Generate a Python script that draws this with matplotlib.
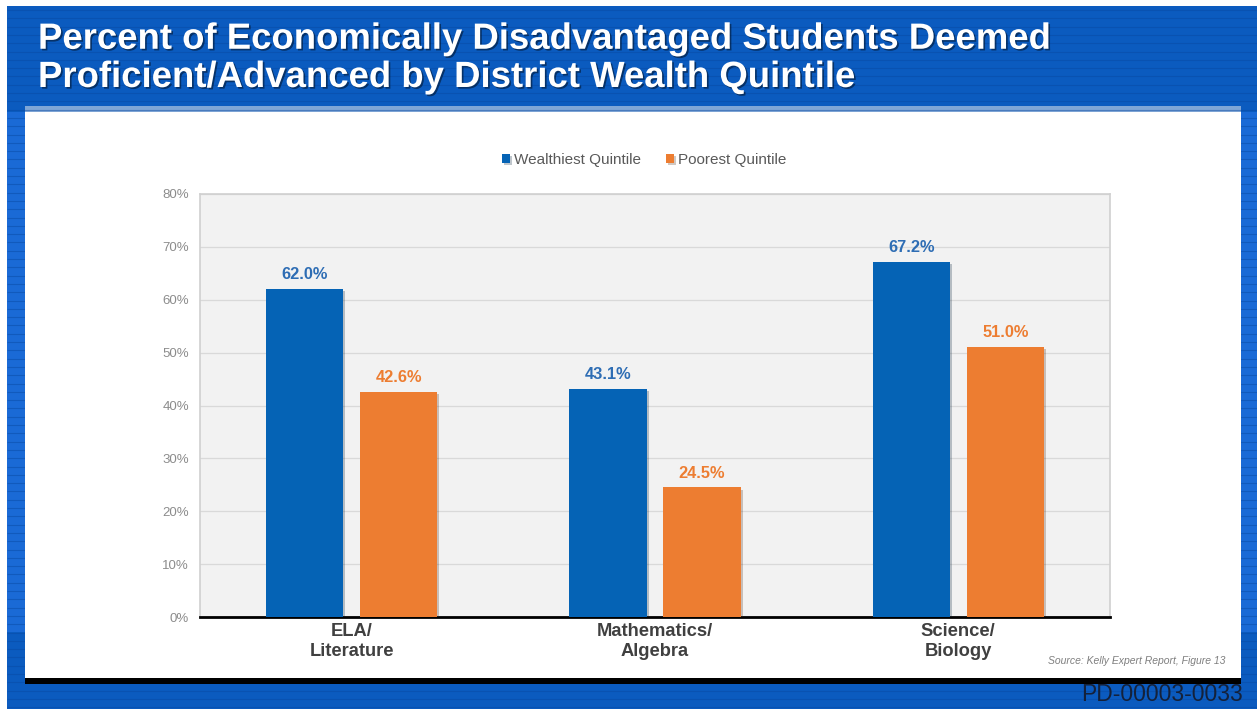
import matplotlib
matplotlib.use("Agg")
import matplotlib.pyplot as plt
import matplotlib.patheffects as pe
from matplotlib.patches import Rectangle
import numpy as np

plt.rcParams['font.family'] = ['Liberation Sans', 'DejaVu Sans']

# ---- data ----
categories = ["ELA/\nLiterature", "Mathematics/\nAlgebra", "Science/\nBiology"]
series_names = ["Wealthiest Quintile", "Poorest Quintile"]
wealthiest = [62.0, 43.1, 67.2]
poorest = [42.6, 24.5, 51.0]
yticks = [0, 10, 20, 30, 40, 50, 60, 70, 80]
title = "Percent of Economically Disadvantaged Students Deemed\nProficient/Advanced by District Wealth Quintile"
source = "Source: Kelly Expert Report, Figure 13"
doc_id = "PD-00003-0033"

BLUE = "#0563B5"
ORANGE = "#ED7D31"

W, H = 1257, 709
fig = plt.figure(figsize=(W / 100, H / 100), dpi=100)
fig.patch.set_facecolor("white")

# ---- slide background (pixel coordinates) ----
bg = fig.add_axes([0, 0, 1, 1])
bg.set_xlim(0, W)
bg.set_ylim(H, 0)
bg.axis("off")
bg.add_patch(Rectangle((7, 6), W - 7, H - 6, facecolor="#0B5BBF", edgecolor="none"))
# brighter side strips
bg.add_patch(Rectangle((7, 112), 18, 520, facecolor="#1A6AD6", edgecolor="none"))
bg.add_patch(Rectangle((1241, 112), 16, 520, facecolor="#1A6AD6", edgecolor="none"))
# stripes
for y in np.arange(10, H, 8.3):
    bg.plot([7, W], [y, y], color="#0848A0", lw=0.8, alpha=0.45, solid_capstyle="butt")
# panel
bg.add_patch(Rectangle((25, 106), 1216, 7, facecolor="#7FA6D6", edgecolor="none"))
bg.add_patch(Rectangle((25, 112), 1216, 566, facecolor="white", edgecolor="none", zorder=3))
bg.add_patch(Rectangle((25, 678), 1216, 6, facecolor="black", edgecolor="none", zorder=3))

bg.text(38, 87, title, color="white", fontsize=26.3, fontweight="bold",
        va="baseline", ha="left", linespacing=1.12,
        path_effects=[pe.SimplePatchShadow(offset=(1.2, -1.2), shadow_rgbFace="black", alpha=0.45), pe.Normal()],
        zorder=4)
bg.text(1243, 701, doc_id, color="#14213A", fontsize=16.5, ha="right", va="baseline", zorder=4)
bg.text(1225, 664, source, color="#7F7F7F", fontsize=7.5, style="italic", ha="right", va="baseline", zorder=4)

# ---- chart ----
x0, x1, ytop, ybot = 200, 1110, 194, 617
ax = fig.add_axes([x0 / W, 1 - ybot / H, (x1 - x0) / W, (ybot - ytop) / H])
ax.set_facecolor("#F2F2F2")
ax.set_zorder(5)

x = np.arange(len(categories))
bw = 0.255
off = 0.155
shadow = [pe.SimplePatchShadow(offset=(1.5, -1.5), alpha=0.25), pe.Normal()]
b1 = ax.bar(x - off, wealthiest, bw, color=BLUE, zorder=3, label=series_names[0], path_effects=shadow)
b2 = ax.bar(x + off, poorest, bw, color=ORANGE, zorder=3, label=series_names[1], path_effects=shadow)

for xi, v in zip(x - off, wealthiest):
    ax.annotate(f"{v:.1f}%", (xi, v), xytext=(0, 5), textcoords="offset points",
                ha="center", va="bottom", fontsize=11.8, fontweight="bold", color="#2E6DB4")
for xi, v in zip(x + off, poorest):
    ax.annotate(f"{v:.1f}%", (xi, v), xytext=(0, 5), textcoords="offset points",
                ha="center", va="bottom", fontsize=11.8, fontweight="bold", color=ORANGE)

ax.set_xlim(-0.5, len(categories) - 0.5)
ax.set_ylim(0, 80)
ax.set_yticks(yticks)
ax.set_yticklabels([f"{t}%" for t in yticks], color="#8C8C8C", fontsize=9.5)
ax.set_xticks(x)
ax.set_xticklabels(categories, fontsize=13.2, fontweight="bold", color="#404040", linespacing=1.3)
ax.tick_params(axis="both", length=0)
ax.tick_params(axis="y", pad=8)
ax.tick_params(axis="x", pad=4)
ax.yaxis.grid(True, color="#D9D9D9", lw=0.9, zorder=0)
ax.set_axisbelow(True)
for s in ["left", "top", "right"]:
    ax.spines[s].set_color("#D0D0D0")
    ax.spines[s].set_linewidth(1.2)
ax.spines["bottom"].set_color("black")
ax.spines["bottom"].set_linewidth(2)

leg = fig.legend(handles=[b1, b2], labels=series_names, loc="center",
                 bbox_to_anchor=(644 / W, 1 - 160 / H), ncol=2, frameon=False,
                 fontsize=11, handlelength=0.55, handleheight=0.55, handletextpad=0.25,
                 columnspacing=1.6, labelcolor="#595959")
leg.set_zorder(6)

fig.savefig("out.png", dpi=100)
